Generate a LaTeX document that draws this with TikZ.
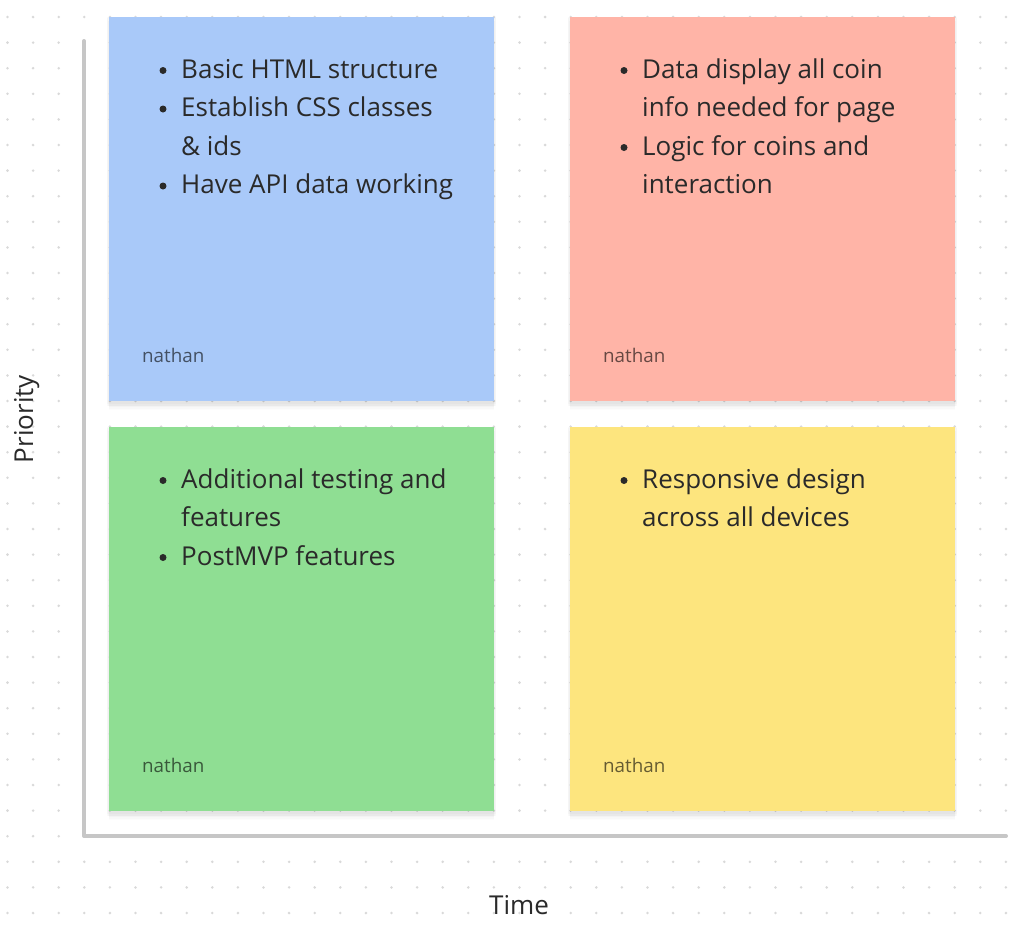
\documentclass[tikz,border=0pt]{standalone}
\usepackage{fontspec}
\setmainfont{Open Sans}
\usetikzlibrary{shadows}

\definecolor{noteblue}{HTML}{A9C9F9}
\definecolor{notered}{HTML}{FFB4A7}
\definecolor{notegreen}{HTML}{8FDE93}
\definecolor{noteyellow}{HTML}{FDE57E}
\definecolor{ink}{HTML}{2A2A2A}
\definecolor{axisgray}{HTML}{C6C6C6}
\definecolor{dotgray}{HTML}{D9D9D9}

\begin{document}
\begin{tikzpicture}[
    x=1pt, y=-1pt,
    note/.style={rectangle, inner sep=0pt, minimum width=385pt, minimum height=384pt,
        general shadow={fill=black, opacity=.018, shadow yshift=-1.5pt, shadow scale=1.01},
        general shadow={fill=black, opacity=.018, shadow yshift=-3pt, shadow scale=1.01},
        general shadow={fill=black, opacity=.018, shadow yshift=-4.5pt, shadow scale=1.005},
        general shadow={fill=black, opacity=.018, shadow yshift=-6pt},
        general shadow={fill=black, opacity=.015, shadow yshift=-7.5pt},
        general shadow={fill=black, opacity=.012, shadow yshift=-9pt}},
    item/.style={anchor=base west, inner sep=0pt, text=ink, font=\fontsize{26}{30}\selectfont},
    bullet/.style={circle, fill=ink, inner sep=0pt, minimum size=7pt},
    sign/.style={anchor=base west, inner sep=0pt, text=black, text opacity=.6, font=\fontsize{18.8}{22}\selectfont},
    axislabel/.style={anchor=base, inner sep=0pt, text=ink, font=\fontsize{26}{30}\selectfont},
    axis/.style={draw=axisgray, line width=4pt, line cap=round, line join=round}
]
\useasboundingbox (0,0) rectangle (1026,930);
\fill[white] (0,0) rectangle (1026,930);

% dotted canvas
\foreach \i in {0,...,39}
    \foreach \j in {0,...,35}
        \fill[dotgray] (7.5+25.6*\i, 17+25.6*\j) circle (1.4);

% axes
\coordinate (ytop) at (84,41);
\coordinate (origin) at (84,836);
\coordinate (xend) at (1006,836);
\draw[axis] (ytop) -- (origin) -- (xend);
\node[axislabel, rotate=90] (prio) at (33,419) {Priority};
\node[axislabel] (time) at (519,914) {Time};

% notes
\node[note, fill=noteblue] (build) at (301.5,209) {};
\node[note, fill=notered] (logic) at (762.5,209) {};
\node[note, fill=notegreen] (extra) at (301.5,619) {};
\node[note, fill=noteyellow] (resp) at (762.5,619) {};

% blue note
\node[bullet] (bb1) at (163,70.5) {};
\node[item] (b1) at (181,78) {Basic HTML structure};
\node[bullet] (bb2) at (163,109) {};
\node[item] (b2) at (181,116.5) {Establish CSS classes};
\node[item] (b2b) at (181,155) {\& ids};
\node[bullet] (bb3) at (163,186) {};
\node[item] (b3) at (181,193.5) {Have API data working};
\node[sign] (s1) at (142,362) {nathan};

% red note
\node[bullet] (rb1) at (624,70.5) {};
\node[item] (r1) at (642,78) {Data display all coin};
\node[item] (r1b) at (642,116.5) {info needed for page};
\node[bullet] (rb2) at (624,147.5) {};
\node[item] (r2) at (642,155) {Logic for coins and};
\node[item] (r2b) at (642,193.5) {interaction};
\node[sign] (s2) at (603,362) {nathan};

% green note
\node[bullet] (gb1) at (163,480.5) {};
\node[item] (g1) at (181,488) {Additional testing and};
\node[item] (g1b) at (181,526.5) {features};
\node[bullet] (gb2) at (163,557.5) {};
\node[item] (g2) at (181,565) {PostMVP features};
\node[sign] (s3) at (142,772) {nathan};

% yellow note
\node[bullet] (yb1) at (624,480.5) {};
\node[item] (y1) at (642,488) {Responsive design};
\node[item] (y1b) at (642,526.5) {across all devices};
\node[sign] (s4) at (603,772) {nathan};
\end{tikzpicture}
\end{document}
